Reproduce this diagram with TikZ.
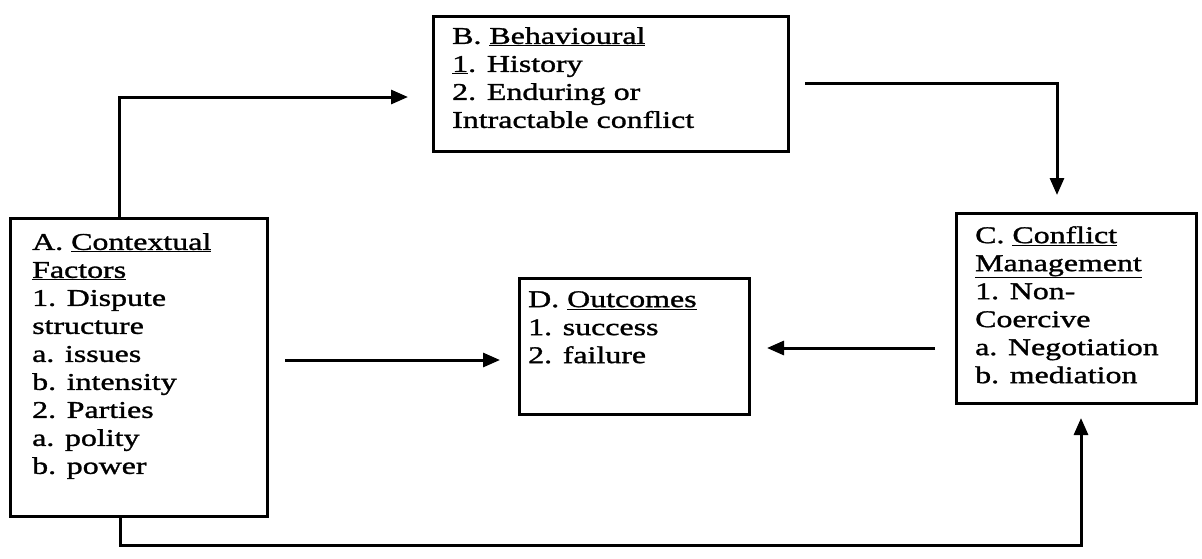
\documentclass[tikz,border=0pt]{standalone}
\usepackage{fontspec}
\newfontfamily\dfont[FakeStretch=1.33,FakeBold=1.3]{Liberation Serif}
\usetikzlibrary{arrows.meta}
\tikzset{
  box/.style={draw=black, line width=3pt, anchor=north west, inner sep=0pt, fill=none},
  boxtext/.style={anchor=north west, inner sep=0pt, align=left, text=black,
    font=\dfont\fontsize{24}{28}\selectfont},
  conn/.style={draw=black, line width=3pt},
  arr/.style={conn, -{Triangle[length=17pt,width=14pt]}},
}
\begin{document}
\begin{tikzpicture}[x=1pt,y=-1pt]
\useasboundingbox[fill=white] (0,0) rectangle (1202,558);
% boxes
\node[box, minimum width=257pt, minimum height=298pt] (A) at (9,217) {};
\node[box, minimum width=355pt, minimum height=135pt] (B) at (432,15) {};
\node[box, minimum width=240pt, minimum height=190pt] (C) at (955,212) {};
\node[box, minimum width=230pt, minimum height=136pt] (D) at (518,277) {};
% texts
\node[boxtext] (At) at (32,233) {A. \underline{Contextual}\\ \underline{Factors}\\ 1. Dispute\\ structure\\ a. issues\\ b. intensity\\ 2. Parties\\ a. polity\\ b. power};
\node[boxtext] (Bt) at (452,27) {B. \underline{Behavioural}\\ \underline{1}.\hspace{0.45em}History\\ 2.\hspace{0.45em}Enduring or\\ Intractable conflict};
\node[boxtext] (Ct) at (975,226) {C. \underline{Conflict}\\ \underline{Management}\\ 1. Non-\\ Coercive\\ a. Negotiation\\ b. mediation};
\node[boxtext] (Dt) at (528,291) {D. \underline{Outcomes}\\ 1. success\\ 2. failure};
% free ends
\coordinate (ab) at (408,97);
\coordinate (b1) at (805,83);
\coordinate (c1) at (1057,195);
\coordinate (ad1) at (285,360);
\coordinate (ad2) at (500,360);
\coordinate (cd1) at (935,348);
\coordinate (cd2) at (767,348);
\coordinate (lo) at (119,545);
\coordinate (c2) at (1081,418);
% connectors
\draw[arr] ([xshift=-19.5pt]A.north) |- (ab);
\draw[arr] (b1) -| (c1);
\draw[arr] (ad1) -- (ad2);
\draw[arr] (cd1) -- (cd2);
\draw[arr] ([xshift=-18.5pt]A.south) |- (lo) -| (c2);
\end{tikzpicture}
\end{document}
